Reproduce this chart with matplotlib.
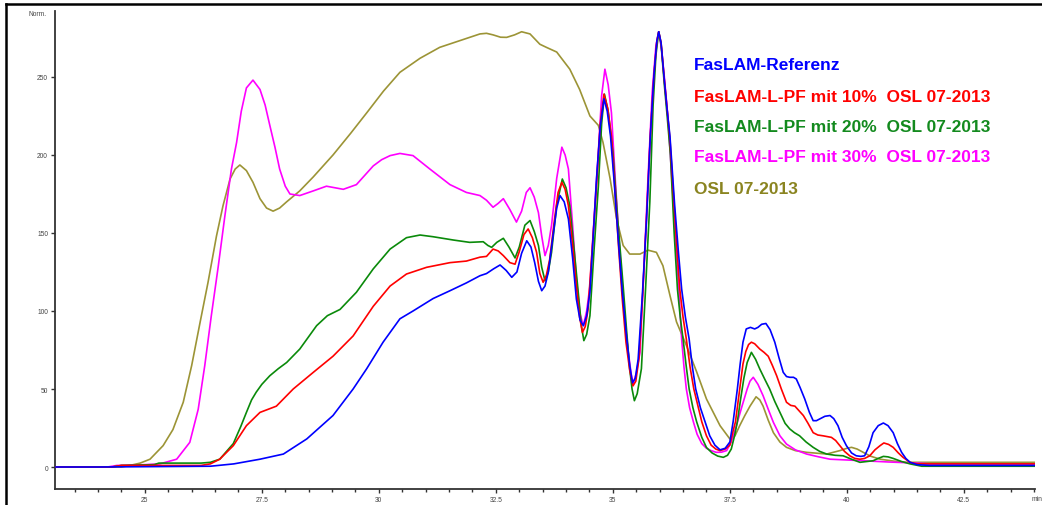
import matplotlib
matplotlib.use("Agg")
import matplotlib.pyplot as plt
from matplotlib.lines import Line2D
from matplotlib.ticker import MultipleLocator

# ---------------- data (retention time in min, normalized signal) ----------------
blue_t = [23.1, 24.0, 26.4, 26.9, 27.46, 27.96, 28.46, 29.02, 29.45, 29.74, 30.09, 30.45, 30.73,
          31.16, 31.52, 31.87, 32.16, 32.3, 32.45, 32.59, 32.72, 32.84, 32.95, 33.05, 33.16, 33.25,
          33.33, 33.41, 33.48, 33.55, 33.62, 33.72, 33.8, 33.87, 33.96, 34.05, 34.14, 34.22, 34.3,
          34.37, 34.44, 34.51, 34.58, 34.65, 34.73, 34.81, 34.88, 34.95, 35.03, 35.11, 35.2, 35.29,
          35.36, 35.42, 35.48, 35.54, 35.63, 35.72, 35.8, 35.88, 35.94, 35.98, 36.03, 36.1, 36.16,
          36.22, 36.32, 36.4, 36.47, 36.55, 36.63, 36.7, 36.77, 36.87, 36.97, 37.07, 37.18, 37.29,
          37.4, 37.5, 37.57, 37.66, 37.72, 37.78, 37.85, 37.94, 38.03, 38.1, 38.18, 38.27, 38.36,
          38.46, 38.55, 38.64, 38.71, 38.78, 38.86, 38.92, 39.0, 39.1, 39.2, 39.28, 39.35, 39.42,
          39.53, 39.64, 39.72, 39.81, 39.9, 39.99, 40.1, 40.2, 40.3, 40.38, 40.47, 40.56, 40.67,
          40.78, 40.88, 40.99, 41.08, 41.17, 41.26, 41.35, 41.5, 41.77, 44.1]
blue_v = [0, 0, 0.5, 2, 5, 8.3, 18, 33, 50, 63, 80, 95, 100,
          108, 113, 118, 122.6, 124, 127, 129.5, 126, 121.6, 125, 137, 145, 141,
          131, 119, 113, 116, 124.8, 148, 166, 174, 170, 159, 134, 107.7, 94,
          90.6, 97, 112, 148, 184.6, 218, 236, 228, 212, 182, 148, 113, 84,
          65, 54, 57, 69, 110, 159, 212, 252, 273, 279, 272, 248, 229,
          212, 168, 138, 114, 96, 82, 64, 50, 38, 29, 20, 14, 11,
          12, 16, 29, 50, 66, 80, 88.5, 89.5, 88.5, 89.5, 91.5, 92, 88,
          80, 70, 60.7, 58, 57.5, 57.5, 56.4, 51, 43.6, 35, 29.7, 29.7, 30.8,
          32.5, 33, 31, 26.5, 19, 13.7, 9, 7.2, 6.8, 7.2, 13, 22, 26.5,
          28.2, 26.5, 22, 15, 9.4, 5.5, 3, 1.5, 1, 1]

red_t = [23.1, 24.3, 24.5, 26.2, 26.4, 26.6, 26.89, 27.17, 27.46, 27.81, 28.17, 28.6, 29.02, 29.45,
         29.88, 30.24, 30.59, 31.02, 31.52, 31.87, 32.16, 32.3, 32.44, 32.55, 32.66, 32.8, 32.91,
         33.0, 33.1, 33.19, 33.28, 33.37, 33.44, 33.51, 33.58, 33.65, 33.75, 33.83, 33.91, 33.98,
         34.05, 34.14, 34.22, 34.29, 34.35, 34.41, 34.47, 34.56, 34.65, 34.73, 34.81, 34.89, 34.97,
         35.04, 35.12, 35.2, 35.28, 35.36, 35.43, 35.49, 35.56, 35.64, 35.72, 35.8, 35.88, 35.94,
         35.98, 36.03, 36.1, 36.16, 36.22, 36.3, 36.37, 36.43, 36.5, 36.57, 36.65, 36.73, 36.81,
         36.9, 37.0, 37.1, 37.2, 37.29, 37.4, 37.5, 37.56, 37.62, 37.71, 37.78, 37.84, 37.9,
         37.96, 38.03, 38.14, 38.23, 38.32, 38.41, 38.5, 38.6, 38.71, 38.8, 38.89, 38.98, 39.07,
         39.17, 39.28, 39.38, 39.49, 39.58, 39.67, 39.76, 39.85, 39.95, 40.06, 40.17, 40.28, 40.38,
         40.49, 40.6, 40.71, 40.79, 40.89, 40.99, 41.1, 41.2, 41.35, 41.5, 44.1]
red_v = [0, 0, 1, 1, 2, 5, 13.7, 26.5, 35, 39, 50, 60.7, 71, 84,
         103, 116, 123.7, 128, 131, 132, 134.5, 135, 139.7, 138.5, 135.5, 131, 130,
         138, 149, 152.6, 147, 137.6, 124, 118.4, 123, 133, 158, 176, 182.5, 178,
         167.5, 142, 116, 96, 86.3, 90, 101, 140, 180, 220, 239, 230, 212,
         180, 142, 108, 80, 62, 52, 55, 70, 112, 160, 212, 252, 273,
         279, 272, 248, 229, 210, 172, 140, 114, 96, 82, 64, 50, 40,
         29, 20, 14, 11.5, 10.5, 11.5, 14, 22, 29, 50, 66, 74, 78.5,
         80, 79, 75.6, 73.5, 71, 65, 58.5, 50, 41.5, 39.5, 39, 36, 33,
         28, 22, 20.5, 20, 19.5, 19, 17, 13.7, 10, 7.2, 5.5, 5, 5.5,
         7.2, 11, 13.7, 15.4, 14.5, 12.6, 9, 6.2, 3, 2, 2]

green_t = [23.1, 24.3, 24.5, 25.2, 25.3, 26.2, 26.4, 26.6, 26.89, 27.05, 27.17, 27.28, 27.38, 27.5,
           27.67, 27.85, 28.03, 28.31, 28.67, 28.9, 29.17, 29.52, 29.88, 30.24, 30.59, 30.88, 31.16,
           31.59, 31.94, 32.23, 32.33, 32.41, 32.52, 32.66, 32.78, 32.91, 33.0, 33.12, 33.23, 33.32,
           33.41, 33.48, 33.55, 33.62, 33.69, 33.8, 33.92, 34.0, 34.08, 34.17, 34.26, 34.33, 34.38,
           34.44, 34.51, 34.6, 34.69, 34.76, 34.82, 34.9, 35.0, 35.1, 35.22, 35.3, 35.36, 35.41,
           35.46, 35.52, 35.61, 35.7, 35.79, 35.86, 35.92, 35.98, 36.03, 36.1, 36.16, 36.23, 36.31,
           36.38, 36.44, 36.5, 36.57, 36.63, 36.71, 36.79, 36.9, 37.0, 37.12, 37.24, 37.36, 37.45,
           37.53, 37.6, 37.66, 37.73, 37.8, 37.87, 37.96, 38.05, 38.14, 38.25, 38.35, 38.46, 38.57,
           38.68, 38.78, 38.88, 38.99, 39.13, 39.28, 39.42, 39.57, 39.75, 39.92, 40.1, 40.28, 40.42,
           40.56, 40.67, 40.78, 40.88, 40.99, 41.17, 41.35, 41.6, 44.1]
green_v = [0, 0, 1, 1.5, 2.5, 2.5, 3, 5, 15, 26, 35, 43, 48, 53,
           58.5, 63, 67, 75.6, 90.6, 97, 101, 112, 127, 139.7, 147, 148.7, 147.6,
           145.5, 144, 144.4, 142, 140.8, 144, 146.6, 141, 134, 141, 155, 158, 151,
           142, 128, 119.4, 125, 137.6, 168, 184.6, 179, 167.5, 140, 112, 90, 81,
           85, 97, 140, 180, 220, 239, 228, 202, 160, 116, 85, 63, 50,
           42.5, 47, 63, 115, 170, 232, 264, 279, 271, 245, 225, 200, 150,
           114, 96, 82, 64, 50, 38, 29, 19, 12.5, 9, 7, 6.2, 7.5,
           11.5, 20, 29, 43.6, 57, 67, 73.5, 69, 62.8, 56, 50, 42, 35,
           28, 24.4, 22, 20, 16, 12.6, 10, 8.3, 7.5, 7.2, 5, 3, 3.5,
           4, 5.5, 6.8, 6.5, 5.5, 3.5, 2, 0.5, 0.5]

pink_t = [23.1, 24.2, 24.4, 25.0, 25.32, 25.68, 25.96, 26.14, 26.28, 26.42, 26.57, 26.71, 26.85,
          26.96, 27.06, 27.17, 27.31, 27.46, 27.57, 27.67, 27.78, 27.88, 28.0, 28.1, 28.31, 28.6, 28.88,
          29.24, 29.52, 29.7, 29.88, 30.06, 30.24, 30.45, 30.73, 31.09, 31.52, 31.87, 32.16, 32.3,
          32.44, 32.55, 32.66, 32.8, 32.94, 33.05, 33.15, 33.23, 33.32, 33.41, 33.48, 33.55, 33.62,
          33.69, 33.8, 33.91, 33.98, 34.05, 34.14, 34.22, 34.3, 34.37, 34.44, 34.51, 34.6, 34.69,
          34.76, 34.83, 34.9, 34.97, 35.06, 35.15, 35.24, 35.33, 35.39, 35.43, 35.5, 35.58, 35.66,
          35.75, 35.84, 35.92, 35.98, 36.04, 36.1, 36.18, 36.27, 36.35, 36.41, 36.47, 36.52, 36.57,
          36.64, 36.72, 36.8, 36.9, 37.0, 37.1, 37.21, 37.32, 37.43, 37.53, 37.64, 37.75, 37.81,
          37.87, 37.93, 38.0, 38.1, 38.21, 38.32, 38.43, 38.57, 38.71, 38.9, 39.14, 39.4, 39.64,
          40.0, 40.35, 40.9, 41.42, 41.8, 44.1]
pink_v = [0, 0, 1, 1.5, 2, 5, 15.8, 37, 65, 97, 129, 161, 191,
          208, 228, 243, 248, 242, 232, 219, 205, 191, 180, 175, 174, 177, 180,
          178, 181, 187, 193, 197, 199.6, 201, 199.6, 191, 181, 176, 174, 171,
          166.5, 169, 172, 165, 157, 164, 176, 179, 173, 163, 148, 135.5, 142,
          155, 185, 205, 200, 191, 155, 120.5, 98, 90.6, 100, 116, 160, 202,
          238, 255, 245, 227, 180, 137.6, 100, 73.5, 60, 53, 60, 73.5, 125,
          184.6, 240, 270, 279, 268, 250, 223, 180, 140, 114, 82, 64, 50,
          38, 29, 21, 15, 12, 10.5, 9.4, 9.5, 10.5, 16, 26.5, 38, 44,
          50, 55, 57.5, 53, 45.7, 37, 28.6, 20, 14.7, 11, 8.3, 6.5, 5,
          4.5, 4, 3.2, 2.6, 2, 2]

olive_t = [23.1, 24.5, 24.68, 24.9, 25.11, 25.39, 25.6, 25.82, 26.0, 26.18, 26.35, 26.53, 26.67,
           26.82, 26.93, 27.03, 27.17, 27.31, 27.46, 27.6, 27.74, 27.88, 28.03, 28.31, 28.6, 29.02,
           29.4, 29.74, 30.1, 30.45, 30.88, 31.3, 31.7, 32.0, 32.16, 32.3, 32.44, 32.6, 32.73, 32.9,
           33.05, 33.23, 33.44, 33.58, 33.8, 34.08, 34.29, 34.51, 34.69, 34.79, 34.94, 35.08, 35.22,
           35.36, 35.58, 35.75, 35.93, 36.07, 36.22, 36.36, 36.57, 36.79, 37.0, 37.29, 37.5, 37.61,
           37.71, 37.82, 37.93, 38.06, 38.14, 38.21, 38.32, 38.43, 38.57, 38.71, 38.9, 39.14, 39.57,
           39.72, 39.85, 40.0, 40.1, 40.22, 40.35, 40.5, 40.71, 41.0, 41.28, 44.1]
olive_v = [0, 0, 1, 2.5, 5, 13.7, 24, 41.5, 65, 92.7, 118.4, 148, 167.5,
           184.6, 191, 193.6, 190, 182.5, 172, 166, 164, 166, 170, 177, 186, 200,
           214, 227, 241, 253, 262, 269, 273, 276, 277.6, 278, 277, 275.5, 275.4, 277,
           279, 277.6, 271, 269, 266, 255, 242, 225, 219, 208, 185, 159, 142,
           136.5, 136.5, 139, 137.6, 129, 110, 93, 78, 61, 43.6, 26.5, 18, 20,
           26.5, 33, 39, 45, 43, 39, 30, 22, 16, 12.6, 10.5, 9.4, 8.3,
           9.5, 10.5, 12, 12.6, 11.5, 9.4, 7, 5, 3.8, 3, 3]

labels = ["FasLAM-Referenz",
          "FasLAM-L-PF mit 10%  OSL 07-2013",
          "FasLAM-L-PF mit 20%  OSL 07-2013",
          "FasLAM-L-PF mit 30%  OSL 07-2013",
          "OSL 07-2013"]
line_colors = ["#0000FF", "#FF0000", "#0A8A0A", "#FF00FF", "#9C9436"]
text_colors = ["#0000FF", "#FF0000", "#138A1E", "#FF00FF", "#8A8420"]

x_ticks = [25, 27.5, 30, 32.5, 35, 37.5, 40, 42.5]
x_tick_labels = ["25", "27.5", "30", "32.5", "35", "37.5", "40", "42.5"]
y_ticks = [0, 50, 100, 150, 200, 250]
y_tick_labels = ["0", "50", "100", "150", "200", "250"]

# ---------------- figure ----------------
plt.rcParams['font.family'] = ['Liberation Sans', 'DejaVu Sans']
W, H = 1042, 506
fig = plt.figure(figsize=(W / 100, H / 100), dpi=100)
fig.patch.set_facecolor("white")

ax_l, ax_r, ax_b, ax_t = 55, 1035, 490, 12
ax = fig.add_axes([ax_l / W, 1 - ax_b / H, (ax_r - ax_l) / W, (ax_b - ax_t) / H])

series = [(blue_t, blue_v), (red_t, red_v), (green_t, green_v), (pink_t, pink_v), (olive_t, olive_v)]
draw_order = [4, 3, 2, 1, 0]
for i in draw_order:
    t, v = series[i]
    ax.plot(t, v, color=line_colors[i], lw=1.2, solid_joinstyle="round", zorder=3 + (4 - i) * 0.1)

ax.set_xlim(23.08, 44.02)
ax.set_ylim(-14.1, 292.3)

for s in ["top", "right"]:
    ax.spines[s].set_visible(False)
for s in ["left", "bottom"]:
    ax.spines[s].set_color("#333333")
    ax.spines[s].set_linewidth(1.3)

ax.set_xticks(x_ticks)
ax.set_xticklabels(x_tick_labels)
ax.xaxis.set_minor_locator(MultipleLocator(0.5))
ax.set_yticks(y_ticks)
ax.set_yticklabels(y_tick_labels)
ax.tick_params(axis="both", which="major", direction="out", length=3, width=1,
               color="#333333", labelsize=4.8, labelcolor="#444444", pad=2)
ax.tick_params(axis="x", which="minor", direction="out", length=2, width=1, color="#333333")
ax.tick_params(axis="y", which="minor", left=False)

fig.text(47 / W, 1 - 15 / H, "Norm.", fontsize=4.8, color="#444444", ha="right", va="center")
fig.text(1032 / W, 1 - 500 / H, "min", fontsize=4.8, color="#444444", ha="left", va="center")

legend_y = [65, 97, 128, 158, 190]
for lab, c, yy in zip(labels, text_colors, legend_y):
    fig.text(694 / W, 1 - yy / H, lab, fontsize=12.5, fontweight="bold", color=c,
             ha="left", va="center")

# outer screenshot frame (top and left)
fig.add_artist(Line2D([5.5 / W, 5.5 / W], [0, 1 - 5 / H], color="black", lw=1.8,
                      transform=fig.transFigure))
fig.add_artist(Line2D([5.5 / W, 1], [1 - 5 / H, 1 - 5 / H], color="black", lw=1.8,
                      transform=fig.transFigure))

fig.savefig("out.png", dpi=100)
